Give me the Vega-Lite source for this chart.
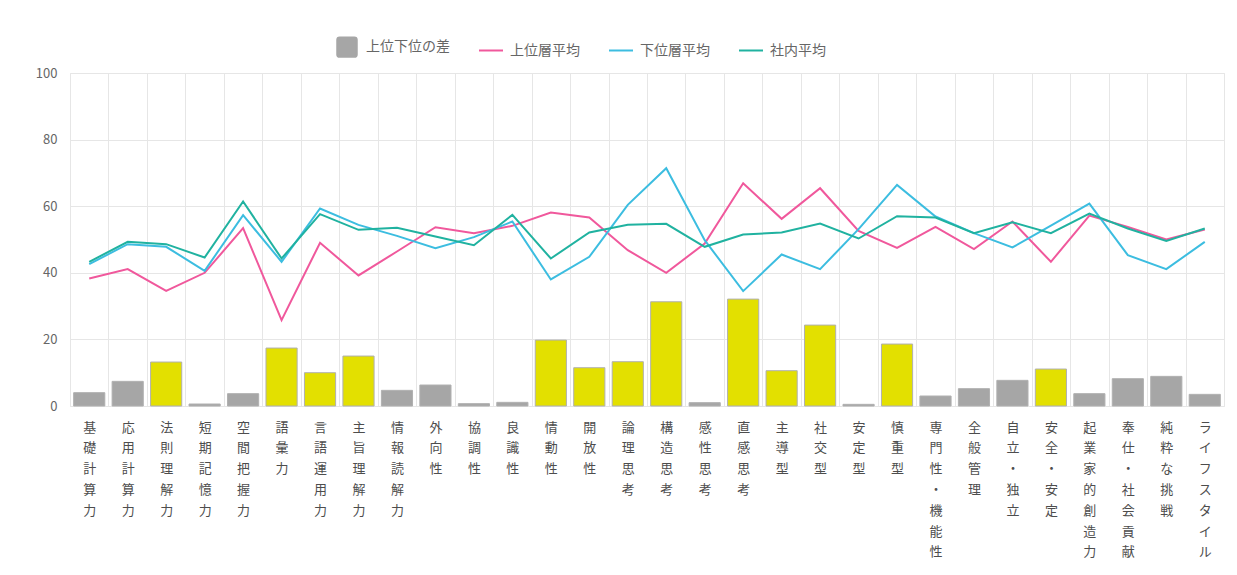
{
  "$schema": "https://vega.github.io/schema/vega-lite/v6.json",
  "width": 1154,
  "height": 333,
  "autosize": "none",
  "padding": {"left": 70, "top": 73, "right": 13, "bottom": 169},
  "config": {
    "font": "Noto Sans CJK JP",
    "view": {"stroke": "#e6e6e6", "strokeWidth": 1}
  },
  "data": {
    "values": [
      {"name": "基礎計算力", "diff": 4.0, "sig": "no", "上位層平均": 38.3, "下位層平均": 42.6, "社内平均": 43.3},
      {"name": "応用計算力", "diff": 7.4, "sig": "no", "上位層平均": 41.1, "下位層平均": 48.6, "社内平均": 49.3},
      {"name": "法則理解力", "diff": 13.2, "sig": "yes", "上位層平均": 34.6, "下位層平均": 47.8, "社内平均": 48.6},
      {"name": "短期記憶力", "diff": 0.6, "sig": "no", "上位層平均": 40.0, "下位層平均": 40.6, "社内平均": 44.6},
      {"name": "空間把握力", "diff": 3.7, "sig": "no", "上位層平均": 53.4, "下位層平均": 57.3, "社内平均": 61.4},
      {"name": "語彙力", "diff": 17.4, "sig": "yes", "上位層平均": 25.8, "下位層平均": 43.3, "社内平均": 44.3},
      {"name": "言語運用力", "diff": 10.0, "sig": "yes", "上位層平均": 49.0, "下位層平均": 59.3, "社内平均": 57.6},
      {"name": "主旨理解力", "diff": 15.0, "sig": "yes", "上位層平均": 39.2, "下位層平均": 54.4, "社内平均": 52.9},
      {"name": "情報読解力", "diff": 4.7, "sig": "no", "上位層平均": 46.4, "下位層平均": 51.1, "社内平均": 53.5},
      {"name": "外向性", "diff": 6.3, "sig": "no", "上位層平均": 53.7, "下位層平均": 47.4, "社内平均": 50.9},
      {"name": "協調性", "diff": 0.7, "sig": "no", "上位層平均": 51.9, "下位層平均": 50.7, "社内平均": 48.3},
      {"name": "良識性", "diff": 1.1, "sig": "no", "上位層平均": 54.1, "下位層平均": 55.4, "社内平均": 57.4},
      {"name": "情動性", "diff": 19.8, "sig": "yes", "上位層平均": 58.1, "下位層平均": 38.0, "社内平均": 44.3},
      {"name": "開放性", "diff": 11.5, "sig": "yes", "上位層平均": 56.6, "下位層平均": 44.8, "社内平均": 52.1},
      {"name": "論理思考", "diff": 13.3, "sig": "yes", "上位層平均": 46.8, "下位層平均": 60.4, "社内平均": 54.4},
      {"name": "構造思考", "diff": 31.3, "sig": "yes", "上位層平均": 40.0, "下位層平均": 71.4, "社内平均": 54.7},
      {"name": "感性思考", "diff": 1.0, "sig": "no", "上位層平均": 48.8, "下位層平均": 49.8, "社内平均": 47.8},
      {"name": "直感思考", "diff": 32.1, "sig": "yes", "上位層平均": 66.9, "下位層平均": 34.5, "社内平均": 51.5},
      {"name": "主導型", "diff": 10.6, "sig": "yes", "上位層平均": 56.2, "下位層平均": 45.5, "社内平均": 52.1},
      {"name": "社交型", "diff": 24.3, "sig": "yes", "上位層平均": 65.4, "下位層平均": 41.1, "社内平均": 54.8},
      {"name": "安定型", "diff": 0.5, "sig": "no", "上位層平均": 52.6, "下位層平均": 53.1, "社内平均": 50.3},
      {"name": "慎重型", "diff": 18.6, "sig": "yes", "上位層平均": 47.5, "下位層平均": 66.4, "社内平均": 57.0},
      {"name": "専門性・機能性", "diff": 3.0, "sig": "no", "上位層平均": 53.8, "下位層平均": 56.9, "社内平均": 56.6},
      {"name": "全般管理", "diff": 5.2, "sig": "no", "上位層平均": 47.1, "下位層平均": 51.9, "社内平均": 51.9},
      {"name": "自立・独立", "diff": 7.7, "sig": "no", "上位層平均": 55.4, "下位層平均": 47.6, "社内平均": 55.2},
      {"name": "安全・安定", "diff": 11.1, "sig": "yes", "上位層平均": 43.3, "下位層平均": 54.2, "社内平均": 51.9},
      {"name": "起業家的創造力", "diff": 3.7, "sig": "no", "上位層平均": 57.2, "下位層平均": 60.8, "社内平均": 57.8},
      {"name": "奉仕・社会貢献", "diff": 8.2, "sig": "no", "上位層平均": 53.8, "下位層平均": 45.3, "社内平均": 53.3},
      {"name": "純粋な挑戦", "diff": 8.9, "sig": "no", "上位層平均": 50.0, "下位層平均": 41.1, "社内平均": 49.6},
      {"name": "ライフスタイル", "diff": 3.5, "sig": "no", "上位層平均": 53.0, "下位層平均": 49.3, "社内平均": 53.3}
    ]
  },
  "encoding": {
    "x": {
      "field": "name",
      "type": "nominal",
      "sort": null,
      "scale": {"paddingInner": 0, "paddingOuter": 0},
      "axis": {
        "title": null,
        "labelAngle": 0,
        "labelExpr": "split(datum.label, '')",
        "labelBaseline": "top",
        "labelLineHeight": 20.8,
        "labelFontSize": 13,
        "labelPadding": 15,
        "labelColor": "#4d4d4d",
        "labelOverlap": false,
        "labelLimit": 0,
        "ticks": false,
        "domain": false,
        "grid": true,
        "tickBand": "extent",
        "gridColor": "#e6e6e6"
      }
    }
  },
  "layer": [
    {
      "mark": {"type": "bar", "width": {"band": 0.81}, "stroke": "#b0b0b0", "strokeWidth": 1},
      "encoding": {
        "y": {
          "field": "diff",
          "type": "quantitative",
          "scale": {"domain": [0, 100], "nice": false},
          "axis": {
            "title": null,
            "values": [0, 20, 40, 60, 80, 100],
            "labelFontSize": 13,
            "labelColor": "#666666",
            "labelPadding": 13,
            "ticks": false,
            "domain": false,
            "grid": true,
            "gridColor": "#e6e6e6"
          }
        },
        "fill": {
          "field": "sig",
          "type": "nominal",
          "scale": {"domain": ["yes", "no"], "range": ["#e3e000", "#a6a6a6"]},
          "legend": null
        }
      }
    },
    {
      "transform": [
        {"fold": ["上位層平均", "下位層平均", "社内平均"], "as": ["series", "value"]}
      ],
      "mark": {"type": "line", "strokeWidth": 2},
      "encoding": {
        "y": {"field": "value", "type": "quantitative"},
        "color": {
          "field": "series",
          "type": "nominal",
          "scale": {
            "domain": ["上位下位の差", "上位層平均", "下位層平均", "社内平均"],
            "range": ["#a6a6a6", "#f0589c", "#3cbde0", "#20b2a0"]
          },
          "legend": {
            "title": null,
            "orient": "none",
            "legendX": 264,
            "legendY": -39,
            "direction": "horizontal",
            "padding": 0,
            "symbolType": "stroke",
            "symbolSize": 576,
            "symbolStrokeWidth": 2,
            "labelFontSize": 14,
            "labelColor": "#666666",
            "labelOffset": 6,
            "columnPadding": 25,
            "encode": {
              "symbols": {
                "update": {
                  "shape": {"signal": "datum.value === '上位下位の差' ? 'M-0.75,-1H0.75Q1,-1,1,-0.75V0.75Q1,1,0.75,1H-0.75Q-1,1,-1,0.75V-0.75Q-1,-1,-0.75,-1Z' : 'stroke'"},
                  "fill": {"signal": "datum.value === '上位下位の差' ? '#a6a6a6' : 'transparent'"},
                  "size": {"signal": "datum.value === '上位下位の差' ? 380 : 576"}
                }
              }
            }
          }
        }
      }
    }
  ]
}
